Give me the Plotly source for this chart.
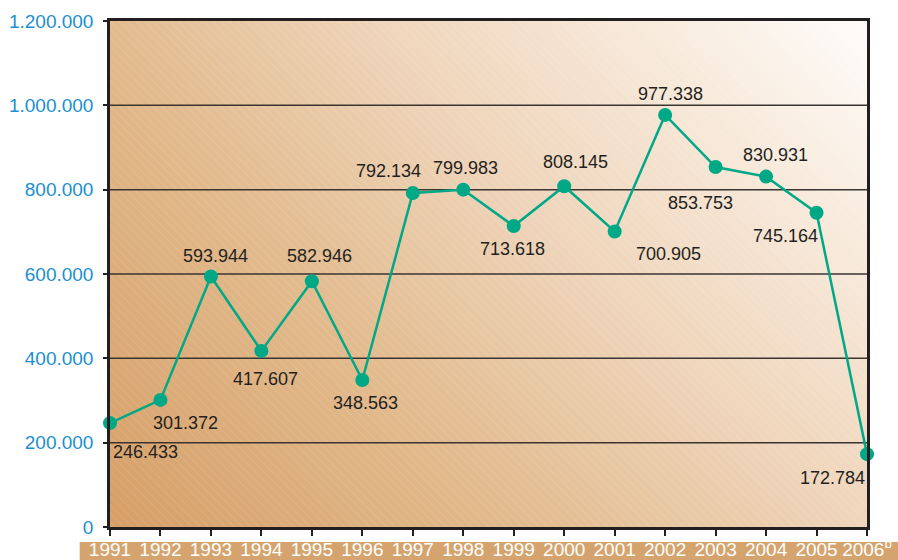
import plotly.graph_objects as go

# --- data -------------------------------------------------------------
years = list(range(1991, 2007))
values = [
    246433, 301372, 593944, 417607, 582946, 348563, 792134, 799983,
    713618, 808145, 700905, 977338, 853753, 830931, 745164, 172784,
]
year_labels = [str(y) for y in years[:-1]] + ["2006<sup>b</sup>"]
y_ticks = [0, 200000, 400000, 600000, 800000, 1000000, 1200000]
y_tick_labels = ["0", "200.000", "400.000", "600.000", "800.000", "1.000.000", "1.200.000"]

# label offsets (px) for every value label: (dx, dy), dy up is positive
label_offsets = [
    (35, -29), (25, -23), (5, 21), (4, -28), (8, 25), (3, -23), (-24, 22), (2, 22),
    (-1, -23), (11, 24), (54, -23), (5, 21), (-15, -36), (9, 22), (-31, -23), (-35, -24),
]

X_MIN, X_MAX = years[0], years[-1]
Y_MIN, Y_MAX = y_ticks[0], y_ticks[-1]

TEAL = "#00a886"
TEXT = "#231f20"
BLUE = "#1b8fd0"
BAND = "#d5a46e"
FONT = "Liberation Sans, Arial, sans-serif"

fig = go.Figure()

# diagonal tan -> white background gradient
fig.add_trace(
    go.Heatmap(
        x=[X_MIN, X_MAX],
        y=[Y_MIN, Y_MAX],
        z=[[0.0, 0.55], [0.3, 1.0]],
        zmin=0,
        zmax=1,
        zsmooth="best",
        colorscale=[
            [0.0, "#d69f67"],
            [0.3, "#e2bb8e"],
            [0.55, "#efd5bb"],
            [0.8, "#f8ebdd"],
            [1.0, "#fefcfa"],
        ],
        showscale=False,
        hoverinfo="skip",
    )
)

# faint diagonal hatching
fig.add_trace(
    go.Scatter(
        x=[X_MIN, X_MAX, X_MAX, X_MIN, X_MIN],
        y=[Y_MIN, Y_MIN, Y_MAX, Y_MAX, Y_MIN],
        mode="none",
        fill="toself",
        fillcolor="rgba(0,0,0,0)",
        fillpattern=dict(shape="\\", fgcolor="white", fgopacity=0.22, size=6, solidity=0.1),
        hoverinfo="skip",
        showlegend=False,
    )
)

# horizontal grid lines (drawn above the background trace)
gx, gy = [], []
for v in y_ticks[1:-1]:
    gx += [X_MIN, X_MAX, None]
    gy += [v, v, None]
fig.add_trace(
    go.Scatter(
        x=gx, y=gy, mode="lines",
        line=dict(color="#3a3433", width=1.5),
        hoverinfo="skip", showlegend=False,
    )
)

fig.add_trace(
    go.Scatter(
        x=years,
        y=values,
        mode="lines+markers",
        line=dict(color=TEAL, width=2.5),
        marker=dict(color=TEAL, size=14),
        cliponaxis=False,
        showlegend=False,
    )
)

for yr, v, (dx, dy) in zip(years, values, label_offsets):
    fig.add_annotation(
        x=yr, y=v,
        text=f"{v:,}".replace(",", "."),
        showarrow=False,
        xshift=dx, yshift=dy,
        font=dict(family=FONT, size=18, color=TEXT),
    )

# tan band behind the year labels
fig.add_shape(
    type="rect", xref="paper", yref="paper",
    x0=-0.04, x1=1.05, y0=-0.0296, y1=-0.07,
    fillcolor=BAND, line=dict(width=0), layer="below",
)

fig.update_layout(
    width=898,
    height=560,
    margin=dict(l=110, r=31, t=21, b=33),
    paper_bgcolor="white",
    plot_bgcolor="white",
    showlegend=False,
)
fig.update_xaxes(
    range=[X_MIN, X_MAX],
    tickvals=years,
    ticktext=year_labels,
    ticks="outside",
    ticklen=6,
    tickwidth=2,
    tickcolor=TEXT,
    showgrid=False,
    zeroline=False,
    showline=True,
    linecolor=TEXT,
    linewidth=2.5,
    mirror=True,
    automargin=False,
    ticklabelstandoff=-3,
    tickfont=dict(family=FONT, size=19, color="white"),
)
fig.update_yaxes(
    range=[Y_MIN, Y_MAX],
    tickvals=y_ticks,
    ticktext=y_tick_labels,
    ticks="outside",
    ticklen=4,
    tickwidth=2,
    tickcolor=TEXT,
    showgrid=False,
    zeroline=False,
    showline=True,
    linecolor=TEXT,
    linewidth=2.5,
    mirror=True,
    automargin=False,
    ticklabelstandoff=6,
    tickfont=dict(family=FONT, size=19, color=BLUE),
)

fig.write_html(
    "out.html",
    config={"displayModeBar": False},
    post_script="document.body.style.margin='0';document.body.style.overflow='hidden';",
)
